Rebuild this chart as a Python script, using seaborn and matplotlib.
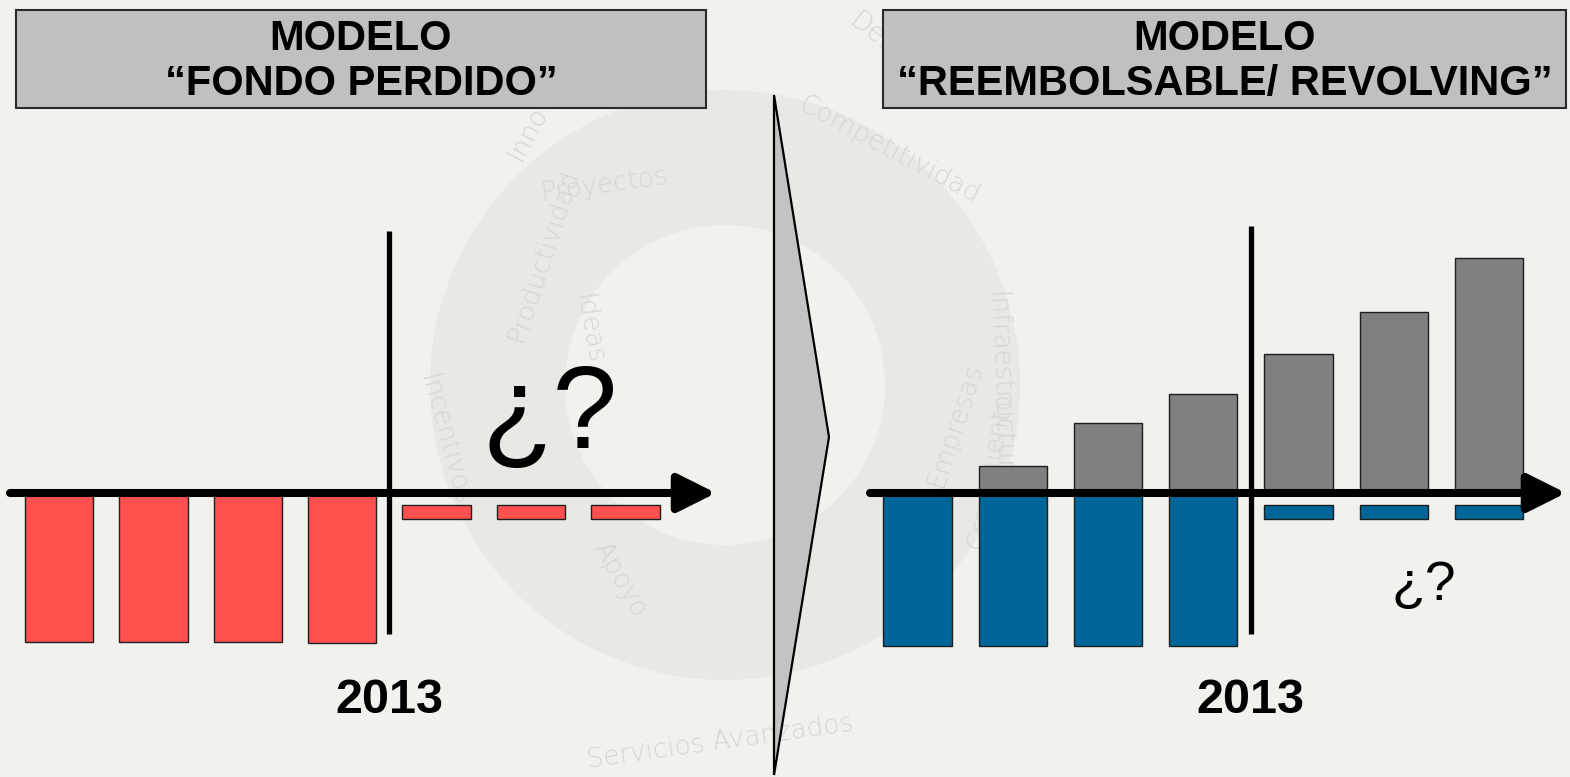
import matplotlib
matplotlib.use("Agg")
import matplotlib.pyplot as plt
from matplotlib.patches import Rectangle, Polygon, Wedge
import seaborn as sns

# ---------------- data ----------------
past_periods = ["2009", "2010", "2011", "2012"]
future_periods = ["2014", "2015", "2016"]
all_periods = past_periods + future_periods
cut_label = "2013"

# Modelo "fondo perdido": money that goes out and never comes back
fp_past_out = [-9.9, -9.9, -9.9, -10.0]
fp_future_out = [-0.93, -0.93, -0.93]

# Modelo "reembolsable / revolving"
rv_past_out = [-10.2, -10.2, -10.2, -10.2]
rv_future_out = [-0.93, -0.93, -0.93]
rv_returns = [0.0, 1.8, 4.7, 6.6, 9.3, 12.1, 15.7]

titles_left = ["MODELO", "\u201cFONDO PERDIDO\u201d"]
titles_right = ["MODELO", "\u201cREEMBOLSABLE/ REVOLVING\u201d"]
question = "\u00bf?"

watermark_words = ["Innovaci\u00f3n", "Desarrollo", "Competitividad", "Proyectos",
                   "Productividad", "Ideas", "Incentivos", "Apoyo",
                   "Servicios Avanzados", "Empresas", "Infraestructura", "Crecimiento"]

# ---------------- style ----------------
RED = "#ff5050"
BLUE = "#006699"
GREY = "#808080"
BG = "#f1f2ee"
EDGE = "#1e1e1e"
DASH_GAP = 0.8

sns.set_theme(style="white")
plt.rcParams["font.family"] = ["Liberation Sans", "DejaVu Sans"]

W, H = 1570, 777
fig = plt.figure(figsize=(W / 100, H / 100), dpi=100)
fig.patch.set_facecolor(BG)

# background / decoration layer in pixel coordinates
bg = fig.add_axes([0, 0, 1, 1], zorder=0)
bg.set_xlim(0, W)
bg.set_ylim(H, 0)
bg.axis("off")
bg.set_facecolor(BG)

# faint watermark ring and words
bg.add_patch(Wedge((725, 385), 295, 0, 360, width=135, facecolor="#e8e9e5",
                   edgecolor="none", zorder=0))
wm_pos = [(548, 95, 62), (905, 60, -38), (890, 150, -28), (605, 185, 8),
          (543, 255, 72), (588, 330, -80), (445, 440, -75), (620, 580, -60),
          (720, 742, 8), (955, 425, 72), (1000, 390, -88), (990, 470, 80)]
for word, (x, y, r) in zip(watermark_words, wm_pos):
    bg.text(x, y, word, rotation=r, ha="center", va="center", fontsize=19,
            color="#d6d7d3", family=["DejaVu Sans"], fontweight="light",
            rotation_mode="anchor", zorder=1)

# title boxes
for (x0, w), lines in [((16, 690), titles_left), ((883, 683), titles_right)]:
    bg.add_patch(Rectangle((x0, 10), w, 98, facecolor="#c0c0c0",
                           edgecolor="#2a2a2a", lw=1.5, zorder=2))
    cx = x0 + w / 2
    bg.text(cx, 50, lines[0], ha="center", va="baseline", fontsize=30,
            fontweight="bold", color="black", zorder=3)
    bg.text(cx, 95, lines[1], ha="center", va="baseline", fontsize=30,
            fontweight="bold", color="black", zorder=3)

# central chevron
bg.add_patch(Polygon([(774, 95), (829, 437), (774, 775)], closed=True,
                     facecolor="#c3c3c3", edgecolor="black", lw=1.6, zorder=2))


def make_axes(px_left, px_right, x_origin, x_step):
    top_px, bot_px, zero_px, px_per_unit = 180, 700, 493, 15.0
    ax = fig.add_axes([px_left / W, 1 - bot_px / H,
                       (px_right - px_left) / W, (bot_px - top_px) / H], zorder=2)
    return ax, ((px_left - x_origin) / x_step, (px_right - x_origin) / x_step), \
        ((zero_px - bot_px) / px_per_unit, (zero_px - top_px) / px_per_unit)


def finish(ax, xlim, ylim, start, tip, vline_top):
    ax.set_xlim(*xlim)
    ax.set_ylim(*ylim)
    ax.axis("off")
    ax.patch.set_alpha(0)
    ax.vlines(3.5, -9.4, vline_top, color="black", lw=3.8, zorder=4)
    ax.annotate("", xy=(tip, 0), xytext=(start, 0),
                arrowprops=dict(arrowstyle="-|>", lw=5.8, color="black",
                                mutation_scale=58, shrinkA=0, shrinkB=0),
                zorder=5)
    ax.text(3.5, -14.67, cut_label, ha="center", va="baseline", fontsize=35,
            fontweight="bold", color="black")


bar_kw = dict(edgecolor=EDGE, linewidth=1.0, saturation=1, order=all_periods)

# ---------------- left panel ----------------
axl, xl, yl = make_axes(0, 740, 59.0, 94.4)
sns.barplot(x=past_periods, y=fp_past_out, color=RED, width=0.726, ax=axl,
            zorder=3, **bar_kw)
fut_idx = [all_periods.index(p) for p in future_periods]
axl.bar(fut_idx, fp_future_out, bottom=-DASH_GAP, width=0.726, color=RED,
        edgecolor=EDGE, linewidth=1.0, zorder=3)
finish(axl, xl, yl, (10 - 59.0) / 94.4, (716 - 59.0) / 94.4, 17.5)
axl.text(5.2, 3.0, question, ha="center", va="baseline", fontsize=84,
         color="black")

# ---------------- right panel ----------------
axr, xr, yr = make_axes(850, 1570, 917.5, 95.25)
ret_periods = [p for p, v in zip(all_periods, rv_returns) if v > 0]
ret_vals = [v for v in rv_returns if v > 0]
sns.barplot(x=ret_periods, y=ret_vals, color=GREY, width=0.714, ax=axr,
            zorder=3, **bar_kw)
sns.barplot(x=past_periods, y=rv_past_out, color=BLUE, width=0.714, ax=axr,
            zorder=3, **bar_kw)
fut_idx_r = [all_periods.index(p) for p in future_periods]
axr.bar(fut_idx_r, rv_future_out, bottom=-DASH_GAP, width=0.714, color=BLUE,
        edgecolor=EDGE, linewidth=1.0, zorder=3)
finish(axr, xr, yr, (870 - 917.5) / 95.25, (1566 - 917.5) / 95.25, 17.8)
axr.text(5.31, -7.13, question, ha="center", va="baseline", fontsize=40,
         color="black")

fig.savefig("out.png", dpi=100, facecolor=BG)
